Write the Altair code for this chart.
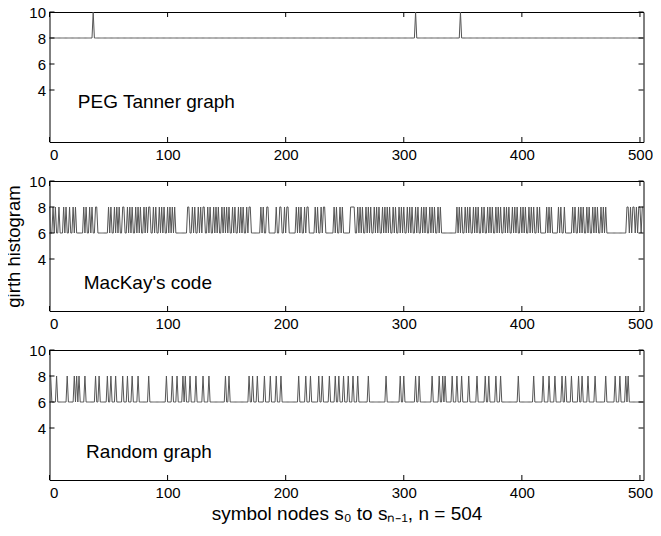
import altair as alt
import pandas as pd

N_NODES = 504
nodes = list(range(N_NODES))

x_ticks = [0, 100, 200, 300, 400, 500]
y_ticks = [4, 6, 8, 10]

# PEG Tanner graph: girth 8 everywhere, 10 at a few nodes
peg_base = 8
peg_high = 10
peg_high_nodes = [37, 310, 348]

# MacKay's code: nodes with local girth 8 (others 6)
mackay_base = 6
mackay_high = 8
mackay_high_nodes = [
    0, 3, 5, 8, 12, 14, 17, 20, 22,
    29, 31, 34, 36, 39, 40,
    50, 52, 55, 57, 59, 62, 63, 66, 68, 70, 73, 75, 77, 80, 82, 84, 85, 88,
    90, 93, 95, 97, 100, 102, 104, 106,
    117, 118, 121, 123, 126, 128, 130, 131, 134, 136, 139, 141, 143, 146,
    148, 150, 152, 155, 157, 160, 162, 164, 167, 169, 170,
    179, 181, 184, 185,
    192, 195, 196, 199, 201, 202,
    209, 211, 213, 216, 218, 219,
    225, 227, 230, 232, 233,
    241, 243, 246, 248,
    255, 256, 257, 258, 261, 263, 265, 268, 270, 272, 275, 277, 279, 282,
    284, 286, 288, 291, 293, 296, 298, 300, 303, 305, 307, 310, 312, 315,
    317, 319, 322, 324, 326, 329, 331,
    345, 347, 349, 352, 354, 356, 359, 361, 363, 366, 368, 371, 373, 375,
    378, 380, 382, 385, 387, 389, 392, 394, 396, 399, 401, 403, 406, 408,
    410, 413, 415,
    421, 423, 425,
    431, 433, 436,
    443, 445, 448, 450, 452, 455, 457, 460, 462, 464, 467, 469, 471,
    489, 490, 492, 494, 495, 497, 499, 500, 502, 503,
]

# Random graph: nodes with local girth 8 (others 6)
random_base = 6
random_high = 8
random_high_nodes = [
    0, 1, 6, 15, 21, 23, 25, 30, 39, 42, 49, 52, 56, 62, 66, 70, 75, 84,
    99, 104, 108, 113, 115, 119, 124, 130, 135, 149, 152, 169, 172, 176,
    182, 187, 192, 196, 211, 217, 221, 228, 231, 237, 242, 245, 249, 253,
    257, 261, 270, 285, 297, 300, 310, 313, 324, 330, 333, 335, 341, 345,
    349, 355, 362, 369, 372, 378, 382, 397, 410, 418, 423, 428, 434, 437,
    442, 448, 451, 456, 462, 471, 479, 483, 488, 490,
]

panel_labels = ["PEG Tanner graph", "MacKay's code", "Random graph"]
label_x = [24, 29, 31]
label_y = [3.1, 2.15, 2.15]

FONT = "Liberation Sans"
W, H = 594, 130


def series(base, high, high_nodes):
    hs = set(high_nodes)
    return [high if i in hs else base for i in nodes]


def panel(values, idx, x_title=None, y_title=None):
    df = pd.DataFrame({"node": nodes, "girth": values})
    xs = alt.Scale(domain=[0, 503], nice=False, zero=False)
    ys = alt.Scale(domain=[0, 10], nice=False, zero=False)
    x_axis = (alt.Axis(values=x_ticks, title=x_title) if x_title
              else alt.Axis(values=x_ticks, title=None))
    y_axis = (alt.Axis(values=y_ticks, title=y_title) if y_title
              else alt.Axis(values=y_ticks, title=None))
    line = alt.Chart(df).mark_line(color="#555555", strokeWidth=1).encode(
        x=alt.X("node:Q", scale=xs, axis=x_axis),
        y=alt.Y("girth:Q", scale=ys, axis=y_axis),
    )
    xt = pd.DataFrame({"t": x_ticks})
    yt = pd.DataFrame({"t": y_ticks})
    xb = alt.Chart(xt).mark_rule(color="black", strokeWidth=1).encode(
        x="t:Q", y=alt.value(H), y2=alt.value(H - 5))
    xtop = alt.Chart(xt).mark_rule(color="black", strokeWidth=1).encode(
        x="t:Q", y=alt.value(0), y2=alt.value(5))
    yl = alt.Chart(yt).mark_rule(color="black", strokeWidth=1).encode(
        y="t:Q", x=alt.value(0), x2=alt.value(5))
    yr = alt.Chart(yt).mark_rule(color="black", strokeWidth=1).encode(
        y="t:Q", x=alt.value(W), x2=alt.value(W - 5))
    lab = pd.DataFrame({"x": [label_x[idx]], "y": [label_y[idx]],
                        "label": [panel_labels[idx]]})
    text = alt.Chart(lab).mark_text(align="left", baseline="middle",
                                    font=FONT, fontSize=19, color="black").encode(
        x="x:Q", y="y:Q", text="label:N")
    return alt.layer(line, text, xb, xtop, yl, yr).properties(width=W, height=H)


p1 = panel(series(peg_base, peg_high, peg_high_nodes), 0)
p2 = panel(series(mackay_base, mackay_high, mackay_high_nodes), 1,
           y_title="girth histogram")
p3 = panel(series(random_base, random_high, random_high_nodes), 2,
           x_title="symbol nodes  s₀ to  sₙ₋₁,  n = 504")

chart = alt.vconcat(p1, p2, p3, spacing=10).properties(
    padding={"left": -4.5, "top": -4, "right": -1, "bottom": 0}
).configure_view(
    stroke="black", strokeWidth=1
).configure_axis(
    ticks=False, domain=False, grid=False,
    labelFont=FONT, labelFontSize=15, labelColor="black", labelPadding=4,
    titleFont=FONT, titleFontSize=18.5, titleFontWeight="normal",
    titleColor="black", titlePadding=5,
).configure_axisX(titleFontSize=19, titlePadding=4, labelPadding=5)

chart.save("out.html", embed_options={"renderer": "svg", "actions": False})
